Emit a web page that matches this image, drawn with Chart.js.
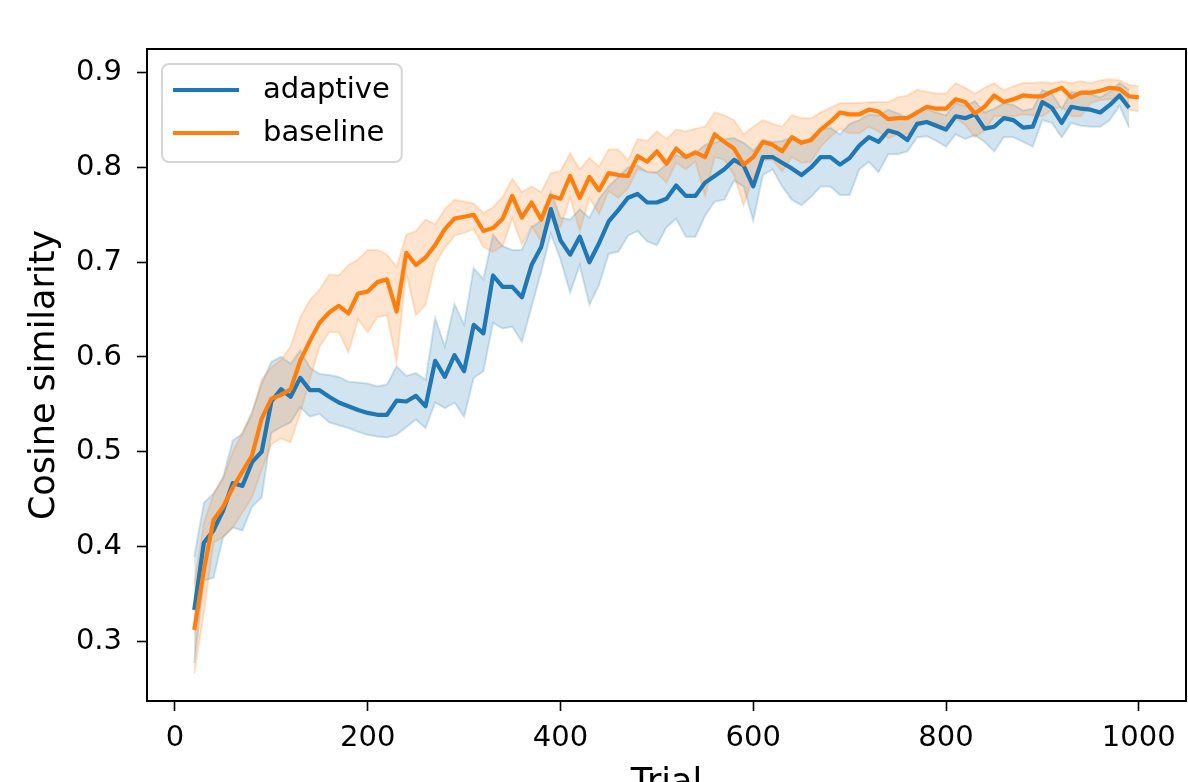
<!DOCTYPE html>
<html>
<head>
<meta charset="utf-8">
<title>Cosine similarity by trial</title>
<script src="https://cdn.jsdelivr.net/npm/chart.js@4.4.0/dist/chart.umd.min.js"></script>
<style>
  html, body { margin: 0; padding: 0; background: #fff; overflow: hidden; }
  #wrap { position: relative; width: 1188px; height: 782px; overflow: hidden; }
  canvas { display: block; }
</style>
</head>
<body>
<div id="wrap"><canvas id="chart" width="1188" height="810"></canvas></div>
<script>
// ── Trial numbers (x) ──
var trials = [
  20, 30, 40, 50, 60, 70, 80, 90, 100, 110,
  120, 130, 140, 150, 160, 170, 180, 190, 200, 210,
  220, 230, 240, 250, 260, 270, 280, 290, 300, 310,
  320, 330, 340, 350, 360, 370, 380, 390, 400, 410,
  420, 430, 440, 450, 460, 470, 480, 490, 500, 510,
  520, 530, 540, 550, 560, 570, 580, 590, 600, 610,
  620, 630, 640, 650, 660, 670, 680, 690, 700, 710,
  720, 730, 740, 750, 760, 770, 780, 790, 800, 810,
  820, 830, 840, 850, 860, 870, 880, 890, 900, 910,
  920, 930, 940, 950, 960, 970, 980, 990, 1000
];

// ── adaptive: mean and band (trials 20..990) ──
var adaptiveMean = [
  0.333, 0.404, 0.417, 0.438, 0.467, 0.464, 0.489, 0.500, 0.553, 0.566,
  0.558, 0.578, 0.565, 0.565, 0.558, 0.552, 0.548, 0.544, 0.541, 0.539,
  0.539, 0.554, 0.553, 0.559, 0.548, 0.596, 0.579, 0.602, 0.585, 0.634,
  0.625, 0.686, 0.674, 0.674, 0.663, 0.697, 0.716, 0.756, 0.723, 0.708,
  0.727, 0.700, 0.720, 0.743, 0.755, 0.768, 0.772, 0.763, 0.763, 0.767,
  0.781, 0.770, 0.770, 0.784, 0.791, 0.798, 0.808, 0.802, 0.780, 0.811,
  0.811, 0.805, 0.799, 0.792, 0.800, 0.811, 0.811, 0.803, 0.810, 0.823,
  0.832, 0.827, 0.839, 0.836, 0.829, 0.846, 0.848, 0.844, 0.840, 0.854,
  0.852, 0.856, 0.841, 0.843, 0.852, 0.850, 0.842, 0.843, 0.869, 0.863,
  0.847, 0.864, 0.862, 0.861, 0.858, 0.866, 0.876, 0.863
];
var adaptiveUpper = [
  0.389, 0.446, 0.456, 0.473, 0.512, 0.519, 0.542, 0.572, 0.595, 0.600,
  0.593, 0.607, 0.589, 0.582, 0.581, 0.579, 0.574, 0.573, 0.572, 0.569,
  0.571, 0.590, 0.580, 0.583, 0.576, 0.641, 0.611, 0.656, 0.634, 0.694,
  0.682, 0.729, 0.717, 0.713, 0.713, 0.737, 0.744, 0.774, 0.747, 0.745,
  0.756, 0.747, 0.767, 0.780, 0.790, 0.800, 0.802, 0.795, 0.795, 0.803,
  0.813, 0.810, 0.815, 0.824, 0.826, 0.830, 0.831, 0.826, 0.818, 0.829,
  0.827, 0.828, 0.832, 0.826, 0.830, 0.840, 0.842, 0.835, 0.846, 0.850,
  0.856, 0.855, 0.861, 0.857, 0.852, 0.860, 0.862, 0.858, 0.855, 0.868,
  0.865, 0.870, 0.858, 0.862, 0.868, 0.866, 0.860, 0.862, 0.882, 0.878,
  0.862, 0.880, 0.878, 0.877, 0.874, 0.880, 0.889, 0.882
];
var adaptiveLower = [
  0.277, 0.364, 0.367, 0.410, 0.420, 0.417, 0.442, 0.452, 0.520, 0.526,
  0.531, 0.547, 0.537, 0.540, 0.531, 0.528, 0.525, 0.521, 0.518, 0.516,
  0.515, 0.518, 0.526, 0.534, 0.525, 0.552, 0.546, 0.552, 0.537, 0.578,
  0.585, 0.636, 0.630, 0.632, 0.616, 0.653, 0.690, 0.730, 0.703, 0.668,
  0.697, 0.655, 0.676, 0.709, 0.711, 0.728, 0.733, 0.722, 0.718, 0.737,
  0.746, 0.727, 0.727, 0.749, 0.764, 0.766, 0.786, 0.780, 0.744, 0.792,
  0.798, 0.780, 0.766, 0.760, 0.769, 0.780, 0.780, 0.771, 0.771, 0.798,
  0.806, 0.795, 0.814, 0.814, 0.817, 0.832, 0.833, 0.828, 0.822, 0.835,
  0.830, 0.834, 0.827, 0.817, 0.832, 0.832, 0.827, 0.822, 0.850, 0.847,
  0.832, 0.847, 0.844, 0.843, 0.843, 0.850, 0.865, 0.842
];

// ── baseline: mean and band (trials 20..1000) ──
var baselineMean = [
  0.312, 0.375, 0.428, 0.442, 0.462, 0.479, 0.496, 0.535, 0.556, 0.560,
  0.566, 0.596, 0.617, 0.636, 0.647, 0.654, 0.646, 0.667, 0.669, 0.679,
  0.682, 0.648, 0.710, 0.697, 0.705, 0.718, 0.735, 0.746, 0.748, 0.750,
  0.733, 0.736, 0.746, 0.770, 0.747, 0.763, 0.745, 0.770, 0.767, 0.791,
  0.768, 0.790, 0.776, 0.794, 0.792, 0.791, 0.812, 0.806, 0.817, 0.804,
  0.820, 0.811, 0.816, 0.811, 0.835, 0.827, 0.820, 0.803, 0.811, 0.827,
  0.824, 0.817, 0.832, 0.826, 0.829, 0.840, 0.848, 0.858, 0.856, 0.856,
  0.861, 0.859, 0.851, 0.852, 0.852, 0.858, 0.864, 0.862, 0.862, 0.872,
  0.869, 0.857, 0.864, 0.876, 0.869, 0.872, 0.876, 0.875, 0.875, 0.880,
  0.884, 0.874, 0.879, 0.879, 0.881, 0.884, 0.883, 0.875, 0.874
];
var baselineUpper = [
  0.360, 0.425, 0.455, 0.472, 0.500, 0.520, 0.540, 0.576, 0.589, 0.597,
  0.611, 0.642, 0.660, 0.671, 0.687, 0.686, 0.697, 0.703, 0.713, 0.713,
  0.708, 0.695, 0.729, 0.733, 0.745, 0.740, 0.756, 0.766, 0.764, 0.762,
  0.752, 0.758, 0.769, 0.788, 0.774, 0.780, 0.774, 0.794, 0.796, 0.815,
  0.798, 0.810, 0.801, 0.819, 0.819, 0.808, 0.830, 0.828, 0.838, 0.830,
  0.840, 0.838, 0.841, 0.843, 0.858, 0.855, 0.850, 0.835, 0.843, 0.850,
  0.846, 0.843, 0.855, 0.852, 0.852, 0.858, 0.863, 0.868, 0.868, 0.868,
  0.869, 0.869, 0.869, 0.874, 0.876, 0.882, 0.880, 0.878, 0.878, 0.889,
  0.884, 0.878, 0.884, 0.889, 0.881, 0.886, 0.889, 0.889, 0.890, 0.889,
  0.891, 0.889, 0.891, 0.889, 0.892, 0.893, 0.892, 0.887, 0.886
];
var baselineLower = [
  0.266, 0.330, 0.404, 0.410, 0.420, 0.436, 0.452, 0.481, 0.508, 0.514,
  0.510, 0.541, 0.576, 0.611, 0.626, 0.626, 0.605, 0.640, 0.626, 0.642,
  0.644, 0.595, 0.689, 0.644, 0.655, 0.698, 0.715, 0.728, 0.731, 0.735,
  0.716, 0.711, 0.717, 0.746, 0.719, 0.738, 0.722, 0.745, 0.737, 0.768,
  0.733, 0.768, 0.751, 0.775, 0.768, 0.778, 0.798, 0.796, 0.794, 0.784,
  0.805, 0.798, 0.806, 0.770, 0.811, 0.808, 0.792, 0.760, 0.790, 0.808,
  0.808, 0.796, 0.811, 0.805, 0.806, 0.822, 0.832, 0.841, 0.836, 0.836,
  0.843, 0.838, 0.831, 0.835, 0.835, 0.843, 0.847, 0.847, 0.845, 0.852,
  0.845, 0.832, 0.839, 0.854, 0.854, 0.854, 0.856, 0.855, 0.854, 0.861,
  0.864, 0.854, 0.854, 0.868, 0.871, 0.872, 0.873, 0.861, 0.859
];

// ── axis ticks ──
var xTickStep = 200;
var yTickStep = 0.1;

var BLUE = '#1f77b4';
var ORANGE = '#ff7f0e';
var BLUE_BAND = 'rgba(31,119,180,0.2)';
var ORANGE_BAND = 'rgba(255,127,14,0.2)';

Chart.defaults.font.family = "'DejaVu Sans', sans-serif";
Chart.defaults.color = '#000';

function toPoints(values) {
  var pts = [];
  for (var i = 0; i < values.length; i++) pts.push({ x: trials[i], y: values[i] });
  return pts;
}

function lineSet(label, values, color) {
  return {
    label: label, data: toPoints(values), borderColor: color, backgroundColor: color,
    borderWidth: 4.2, pointRadius: 0, tension: 0, fill: false,
    borderJoinStyle: 'round', borderCapStyle: 'butt'
  };
}

function bandSet(values, color, fill) {
  return {
    label: '', data: toPoints(values), borderColor: color, backgroundColor: color,
    borderWidth: 2, pointRadius: 0, tension: 0, fill: fill, isBand: true
  };
}

// ── frame round the plot area (matplotlib spines) ──
var framePlugin = {
  id: 'frame',
  afterDatasetsDraw: function(chart) {
    var a = chart.chartArea, ctx = chart.ctx;
    ctx.save();
    ctx.strokeStyle = '#000';
    ctx.lineWidth = 2;
    ctx.strokeRect(a.left, a.top, a.right - a.left, a.bottom - a.top);
    ctx.restore();
  }
};

// ── boxed legend in the upper left corner ──
var boxLegend = {
  id: 'boxLegend',
  afterDraw: function(chart) {
    var a = chart.chartArea, ctx = chart.ctx;
    var items = chart.data.datasets.filter(function(d) { return !d.isBand; }).reverse();
    ctx.save();
    ctx.font = '29px "DejaVu Sans"';
    var textW = 0;
    items.forEach(function(d) { textW = Math.max(textW, ctx.measureText(d.label).width); });
    var x = a.left + 15, y = a.top + 15;
    var w = 11 + 66 + 24 + textW + 12, h = 98, r = 7;
    ctx.beginPath();
    ctx.roundRect(x, y, w, h, r);
    ctx.fillStyle = 'rgba(255,255,255,0.8)';
    ctx.fill();
    ctx.strokeStyle = '#d6d6d6';
    ctx.lineWidth = 2;
    ctx.stroke();
    items.forEach(function(d, i) {
      var ly = y + 26 + i * 43;
      ctx.beginPath();
      ctx.moveTo(x + 11, ly);
      ctx.lineTo(x + 77, ly);
      ctx.strokeStyle = d.borderColor;
      ctx.lineWidth = 4;
      ctx.stroke();
      ctx.fillStyle = '#000';
      ctx.textBaseline = 'middle';
      ctx.fillText(d.label, x + 101, ly);
    });
    ctx.restore();
  }
};

var axisFont = { family: "'DejaVu Sans'", size: 29 };
var titleFont = { family: "'DejaVu Sans'", size: 35 };

// index 0 is drawn last (on top): lines above bands, baseline above adaptive
new Chart(document.getElementById('chart'), {
  type: 'line',
  data: {
    datasets: [
      lineSet('baseline', baselineMean, ORANGE),
      lineSet('adaptive', adaptiveMean, BLUE),
      bandSet(baselineUpper, ORANGE_BAND, '+1'),
      bandSet(baselineLower, ORANGE_BAND, false),
      bandSet(adaptiveUpper, BLUE_BAND, '+1'),
      bandSet(adaptiveLower, BLUE_BAND, false)
    ]
  },
  options: {
    responsive: false,
    animation: false,
    events: [],
    layout: { padding: { left: 0, top: 49, right: 2, bottom: 0 } },
    plugins: { legend: { display: false }, tooltip: { enabled: false } },
    scales: {
      x: {
        type: 'linear', min: -29, max: 1049,
        border: { display: false },
        grid: { drawOnChartArea: false, drawTicks: true, tickLength: 10, tickColor: '#000', tickWidth: 1.6 },
        ticks: {
          stepSize: xTickStep, includeBounds: false, autoSkip: false, maxRotation: 0, padding: 10, color: '#000', font: axisFont,
          callback: function(v) { return String(v); }
        },
        title: { display: true, text: 'Trial', color: '#000', font: titleFont, padding: { top: 0, bottom: 5 } },
        afterFit: function(s) { s.height = 109; }
      },
      y: {
        type: 'linear', min: 0.237, max: 0.925,
        border: { display: false },
        grid: { drawOnChartArea: false, drawTicks: true, tickLength: 10, tickColor: '#000', tickWidth: 1.6 },
        ticks: {
          stepSize: yTickStep, includeBounds: false, autoSkip: false, padding: 15, color: '#000', font: axisFont,
          callback: function(v) { return v.toFixed(1); }
        },
        title: { display: true, text: 'Cosine similarity', color: '#000', font: titleFont, padding: { top: 24, bottom: 0 } },
        afterFit: function(s) { s.width = 147; }
      }
    }
  },
  plugins: [framePlugin, boxLegend]
});
</script>
</body>
</html>
